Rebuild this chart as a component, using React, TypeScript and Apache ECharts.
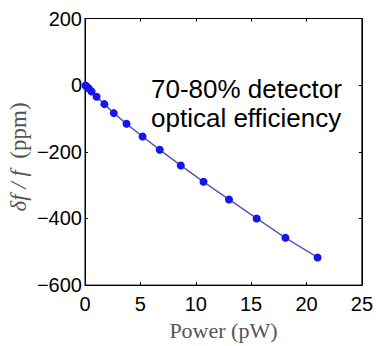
import React, { useEffect, useRef } from "react";
import * as echarts from "echarts";

const powerPW = [0.05, 0.15, 0.35, 0.6, 1.05, 1.75, 2.6, 3.75, 5.2, 6.75, 8.65, 10.7, 13.0, 15.5, 18.1, 21.0];
const shiftPPM = [-1, -4, -10, -19, -35, -57, -84, -116, -154, -194, -241, -290, -343, -400, -458, -517];
const annotationLines = ["70-80% detector", "optical efficiency"];

const fmt = (v: number) => String(v).replace("-", "\u2212");

export default function App() {
  const ref = useRef<HTMLDivElement>(null);
  useEffect(() => {
    if (!ref.current) return;
    const chart = echarts.init(ref.current, null, { renderer: "svg" });
    const data = powerPW.map((x, i) => [x, shiftPPM[i]]);
    const tickFont = { fontFamily: "Liberation Sans", fontSize: 20, color: "#000" };
    const line = { show: true, onZero: false, lineStyle: { color: "#000", width: 1 } };
    const tick = { show: true, inside: true, length: 3, lineStyle: { color: "#000" } };
    chart.setOption({
      animation: false,
      backgroundColor: "#fff",
      grid: { left: 85, right: 14, top: 18.5, bottom: 47.7, show: true, borderColor: "#000", borderWidth: 1, backgroundColor: "transparent" },
      xAxis: [
        {
          type: "value", min: 0, max: 25, interval: 5,
          axisLine: line, axisTick: tick,
          splitLine: { show: false },
          axisLabel: { ...tickFont, margin: 9, formatter: fmt },
          name: "Power (pW)", nameLocation: "middle", nameGap: 25,
          nameTextStyle: { fontFamily: "Liberation Serif", fontSize: 22, color: "#555" },
        },
        {
          type: "value", min: 0, max: 25, interval: 5, position: "top",
          axisLine: line, axisTick: tick,
          splitLine: { show: false }, axisLabel: { show: false },
        },
      ],
      yAxis: [
        {
          type: "value", min: -600, max: 200, interval: 200,
          axisLine: line, axisTick: tick,
          splitLine: { show: false },
          axisLabel: { ...tickFont, margin: 3, formatter: fmt },
        },
        {
          type: "value", min: -600, max: 200, interval: 200, position: "right",
          axisLine: line, axisTick: tick,
          splitLine: { show: false }, axisLabel: { show: false },
        },
      ],
      series: [
        {
          type: "line",
          data,
          symbol: "circle",
          symbolSize: 8,
          lineStyle: { color: "#5858b8", width: 1.5 },
          itemStyle: { color: "#1515f0" },
          z: 3,
        },
      ],
      graphic: [
        {
          type: "text",
          left: 151,
          top: 74,
          style: {
            text: annotationLines.join("\n"),
            fontFamily: "Liberation Sans",
            fontSize: 26,
            lineHeight: 29,
            fill: "#000",
          },
        },
        {
          type: "text",
          x: 18,
          y: 157,
          rotation: Math.PI / 2,
          style: {
            text: "{i|\u03b4f / f\u00a0\u00a0}{n|(ppm)}",
            align: "center",
            verticalAlign: "middle",
            fill: "#555",
            rich: {
              i: { fontFamily: "Liberation Serif", fontStyle: "italic", fontSize: 23, fill: "#555", color: "#555" },
              n: { fontFamily: "Liberation Serif", fontSize: 23, fill: "#555", color: "#555" },
            },
          },
        },
      ],
    });
    return () => chart.dispose();
  }, []);
  return <div ref={ref} style={{ position: "fixed", left: 0, top: 0, width: 376, height: 346 }} />;
}
